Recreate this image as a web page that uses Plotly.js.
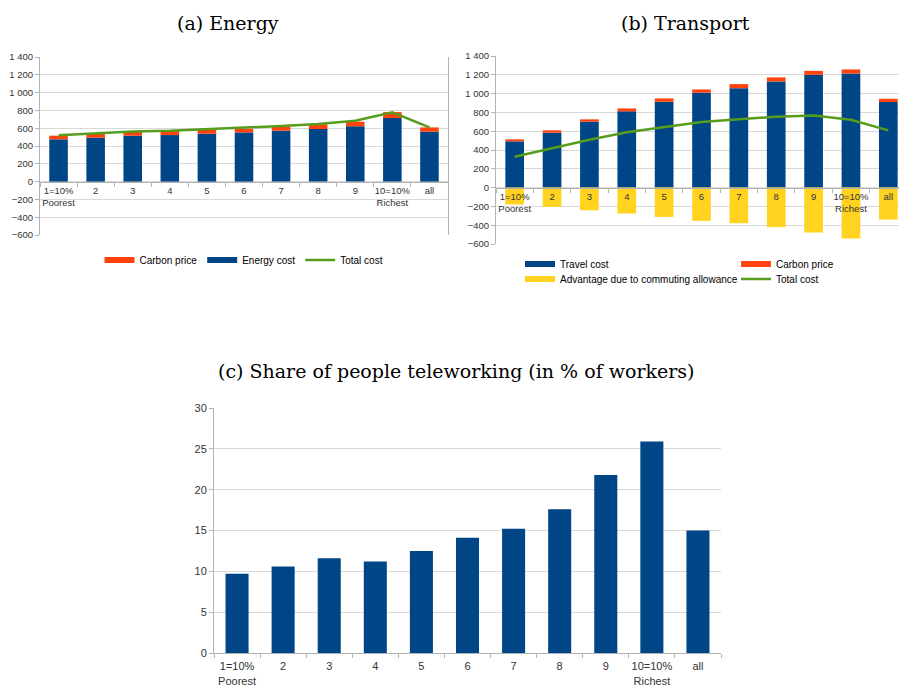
<!DOCTYPE html>
<html><head><meta charset="utf-8">
<script src="https://cdn.plot.ly/plotly-3.0.1.min.js"></script>
<style>html,body{margin:0;padding:0;background:#fff}#chart{width:899px;height:688px}</style>
</head><body><div id="chart"></div>
<script>
// ---- data ----
const categories = ['1=10%<br>Poorest','2','3','4','5','6','7','8','9','10=10%<br>Richest','all'];
const energyCost   = [475, 493, 516, 523, 538, 553, 572, 591, 621, 714, 561];
const energyCarbon = [41, 42, 45, 49, 49, 41, 45, 52, 52, 67, 48];
const energyTotal  = [520, 538, 564, 572, 590, 602, 624, 647, 684, 778, 609];
const travelCost   = [492, 584, 701, 811, 913, 1009, 1058, 1129, 1200, 1214, 910];
const travelCarbon = [21, 25, 25, 31, 36, 35, 43, 43, 42, 43, 35];
const allowance    = [-180, -205, -241, -276, -312, -354, -379, -421, -478, -542, -340];
const travelTotal  = [329, 421, 510, 588, 644, 697, 726, 754, 768, 722, 609];
const teleworking  = [9.7, 10.6, 11.6, 11.2, 12.5, 14.1, 15.2, 17.6, 21.8, 25.9, 15.0];
const costTicks = [-600,-400,-200,0,200,400,600,800,1000,1200,1400];
const shareTicks = [0,5,10,15,20,25,30];

// ---- styling ----
const BLUE='#004586', RED='#ff420e', YELLOW='#ffd320', GREEN='#579d1c';
const GRID='#d9d9d9', AXIS='#b3b3b3', TXT='#333333';
const SANS='Liberation Sans, Arial, sans-serif', SERIF='DejaVu Serif, serif';
const W=899, H=688;
const px = v => v/W, py = v => 1 - v/H;

const domA = {x:[px(40), px(448)], y:[py(235), py(57)]};
const domB = {x:[px(496), 1], y:[py(244), py(56)]};
const domC = {x:[px(214), px(721)], y:[py(653), py(408)]};
const zeroPos = (d) => d.y[0] + (0-(-600))/(1400-(-600))*(d.y[1]-d.y[0]);

const barTrace = (x, y, color, xa, ya) => ({type:'bar', x, y, xaxis:xa, yaxis:ya,
  marker:{color, line:{width:0}}, showlegend:false, hoverinfo:'y'});
const lineTrace = (x, y, xa, ya) => ({type:'scatter', mode:'lines', x, y, xaxis:xa, yaxis:ya,
  line:{color:GREEN, width:2.5}, showlegend:false, hoverinfo:'y'});
const legendEntry = (name, color, width, leg, xa, ya, lw) => {
  const t = {type:'scatter', mode:'lines', x:[null], y:[null],
    xaxis:xa, yaxis:ya, name, legend:leg, line:{color, width}, showlegend:true, hoverinfo:'skip'};
  if (lw) t.legendwidth = lw;
  return t;
};

const data = [
  barTrace(categories, energyCost, BLUE, 'x', 'y'),
  barTrace(categories, energyCarbon, RED, 'x', 'y'),
  lineTrace(categories, energyTotal, 'x', 'y'),
  barTrace(categories, travelCost, BLUE, 'x2', 'y2'),
  barTrace(categories, travelCarbon, RED, 'x2', 'y2'),
  barTrace(categories, allowance, YELLOW, 'x2', 'y2'),
  lineTrace(categories, travelTotal, 'x2', 'y2'),
  barTrace(categories, teleworking, BLUE, 'x3', 'y3'),
  legendEntry('Carbon price', RED, 6, 'legend', 'x', 'y'),
  legendEntry('Energy cost', BLUE, 6, 'legend', 'x', 'y'),
  legendEntry('Total cost', GREEN, 2.5, 'legend', 'x', 'y'),
  legendEntry('Travel cost', BLUE, 6, 'legend2', 'x2', 'y2', 171),
  legendEntry('Carbon price', RED, 6, 'legend2', 'x2', 'y2', 70),
  legendEntry('Advantage due to commuting allowance', YELLOW, 6, 'legend3', 'x2', 'y2', 171),
  legendEntry('Total cost', GREEN, 2.5, 'legend3', 'x2', 'y2', 70),
];

const tickFontS = {family:SANS, size:9.5, color:TXT};
const tickFontC = {family:SANS, size:11, color:TXT};
const catAxis = (dom, pos, font, range) => ({type:'category', domain:dom, anchor:'free', position:pos,
  range, showgrid:false, zeroline:false, showline:true, linecolor:AXIS, linewidth:1, tickangle:0,
  ticks:'outside', tickson:'boundaries', ticklen:4, tickcolor:AXIS, tickfont:font, fixedrange:true, automargin:false});
const costAxis = (dom, anchor, mirror) => ({domain:dom, anchor, range:[-600,1400], tickvals:costTicks,
  showgrid:true, gridcolor:GRID, zeroline:false, showline:true, linecolor:AXIS, mirror,
  ticks:'outside', ticklen:4, tickcolor:AXIS, separatethousands:true, tickfont:tickFontS, fixedrange:true, automargin:false});

const legendBase = {orientation:'h', font:{family:SANS, size:10, color:'#000'}, itemwidth:30,
  bgcolor:'rgba(0,0,0,0)', yanchor:'middle', itemclick:false, itemdoubleclick:false};

const titleAnn = (text, x, y) => ({text, x:px(x), y:py(y), xref:'paper', yref:'paper',
  xanchor:'center', yanchor:'middle', showarrow:false, font:{family:SERIF, size:19, color:'#000'}});

const layout = {
  width:W, height:H, margin:{l:0,r:0,t:0,b:0}, paper_bgcolor:'#fff', plot_bgcolor:'#fff',
  barmode:'relative', bargap:0.5, separators:'. ', hovermode:false,
  xaxis: catAxis(domA.x, zeroPos(domA), tickFontS, [-0.5, 10.5]),
  yaxis: costAxis(domA.y, 'x', true),
  xaxis2: catAxis(domB.x, zeroPos(domB), tickFontS, [-0.5, 10.286]),
  yaxis2: costAxis(domB.y, 'x2', false),
  xaxis3: Object.assign(catAxis(domC.x, 0, tickFontC, [-0.5, 10.5]), {anchor:'y3', ticklabelstandoff:3}),
  yaxis3: {domain:domC.y, anchor:'x3', range:[0,30], tickvals:shareTicks, showgrid:true, gridcolor:GRID,
    zeroline:false, showline:true, linecolor:AXIS, ticks:'outside', ticklen:4, tickcolor:AXIS,
    tickfont:tickFontC, fixedrange:true, automargin:false},
  legend: Object.assign({}, legendBase, {x:px(244), xanchor:'center', y:py(260)}),
  legend2: Object.assign({}, legendBase, {x:px(520), xanchor:'left', y:py(264)}),
  legend3: Object.assign({}, legendBase, {x:px(520), xanchor:'left', y:py(279)}),
  annotations: [
    titleAnn('(a) Energy', 228, 23),
    titleAnn('(b) Transport', 685, 23),
    titleAnn('(c) Share of people teleworking (in % of workers)', 456, 371),
  ],
};
delete layout.xaxis3.position;

Plotly.newPlot('chart', data, layout, {staticPlot:true, displayModeBar:false});
</script></body></html>
